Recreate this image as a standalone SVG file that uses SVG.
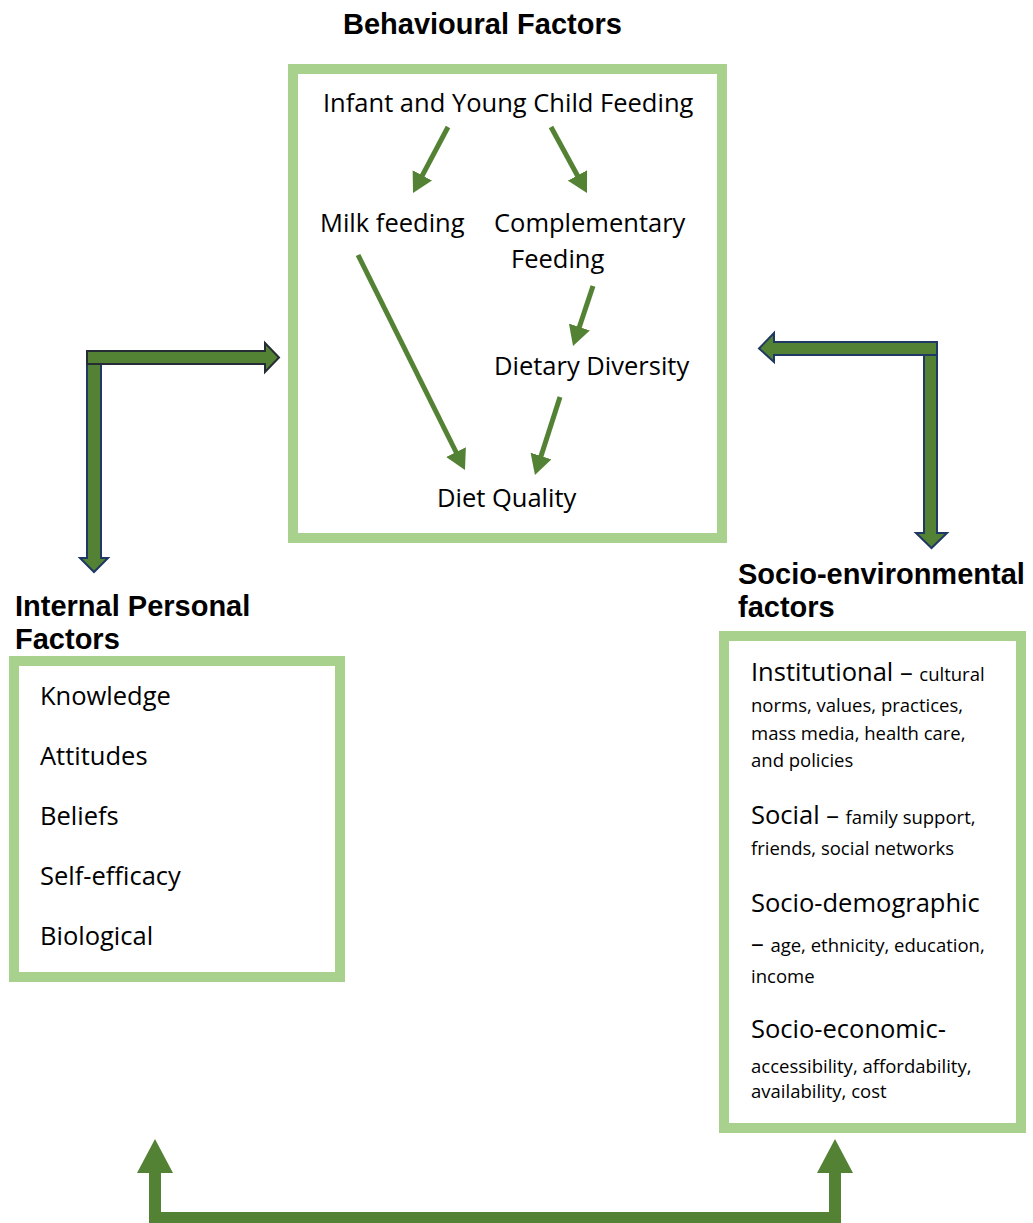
<svg xmlns="http://www.w3.org/2000/svg" width="1033" height="1223" viewBox="0 0 1033 1223">
<style>
.box{fill:#fff;stroke:#A9D18E;stroke-width:10}
.h{font-family:"Liberation Sans",Arial,sans-serif;font-weight:bold;font-size:29px;fill:#000}
.t{font-family:"Open Sans","Noto Sans",sans-serif;font-size:25.5px;fill:#000}
.s{font-family:"Open Sans","Noto Sans",sans-serif;font-size:18.5px;fill:#000}
.fl{stroke:#548235;stroke-width:5;fill:none;marker-end:url(#ah)}
.big{fill:#548235;stroke-width:2;stroke-linejoin:miter}
</style>
<defs>
<marker id="ah" viewBox="0 0 4 4.4" refX="2" refY="2.2" markerWidth="4" markerHeight="4.4" orient="auto" markerUnits="strokeWidth">
<path d="M0,0 L4,2.2 L0,4.4 z" fill="#548235"/>
</marker>
</defs>

<g id="behavioural">
<text class="h" x="343" y="34">Behavioural Factors</text>
<rect class="box" x="293" y="69" width="429" height="469"/>
<text class="t" x="323" y="112">Infant and Young Child Feeding</text>
<text class="t" x="320" y="232">Milk feeding</text>
<text class="t" x="494" y="232">Complementary</text>
<text class="t" x="511" y="268">Feeding</text>
<text class="t" x="494" y="375">Dietary Diversity</text>
<text class="t" x="437" y="507">Diet Quality</text>
</g>

<g id="internal">
<text class="h" x="15" y="616">Internal Personal</text>
<text class="h" x="15" y="649">Factors</text>
<rect class="box" x="14" y="661" width="326" height="316"/>
<text class="t" x="40" y="705">Knowledge</text>
<text class="t" x="40" y="765">Attitudes</text>
<text class="t" x="40" y="825">Beliefs</text>
<text class="t" x="40" y="885">Self-efficacy</text>
<text class="t" x="40" y="945">Biological</text>
</g>

<g id="socio">
<text class="h" x="738" y="584">Socio-environmental</text>
<text class="h" x="738" y="617">factors</text>
<rect class="box" x="724" y="636" width="297" height="492"/>
<text x="751" y="681"><tspan class="t">Institutional – </tspan><tspan class="s">cultural</tspan></text>
<text class="s" x="751" y="712">norms, values, practices,</text>
<text class="s" x="751" y="740">mass media, health care,</text>
<text class="s" x="751" y="767">and policies</text>
<text x="751" y="824"><tspan class="t">Social – </tspan><tspan class="s">family support,</tspan></text>
<text class="s" x="751" y="855">friends, social networks</text>
<text class="t" x="751" y="912">Socio-demographic</text>
<text x="751" y="952"><tspan class="t">– </tspan><tspan class="s">age, ethnicity, education,</tspan></text>
<text class="s" x="751" y="983">income</text>
<text class="t" x="751" y="1038">Socio-economic-</text>
<text class="s" x="751" y="1073">accessibility, affordability,</text>
<text class="s" x="751" y="1098">availability, cost</text>
</g>

<g id="connectors">
<line class="fl" x1="448" y1="127" x2="417.7" y2="184.2"/>
<line class="fl" x1="551" y1="127" x2="582.2" y2="184.2"/>
<line class="fl" x1="593" y1="286" x2="576.2" y2="336.5"/>
<line class="fl" x1="358" y1="255" x2="460.5" y2="461"/>
<line class="fl" x1="560" y1="397" x2="538" y2="465.5"/>

<polygon class="big" stroke="#1F3864" points="87,351 101,351 101,558 108,558 94,572 80,558 87,558"/>
<polygon class="big" stroke="#262C36" points="87,351 265,351 265,343 279,357.5 265,372 265,364 87,364"/>

<polygon class="big" stroke="#1F3864" points="924,342 937,342 937,533 947,533 931.5,548 916,533 924,533"/>
<polygon class="big" stroke="#1F3864" points="937,342 774,342 774,333 759,348.5 774,362 774,355 937,355"/>

<polygon fill="#548235" points="149,1223 149,1173 137,1173 155,1139 173,1173 161,1173 161,1212 829,1212 829,1173 817,1173 835,1139 853,1173 841,1173 841,1223"/>
</g>
</svg>
